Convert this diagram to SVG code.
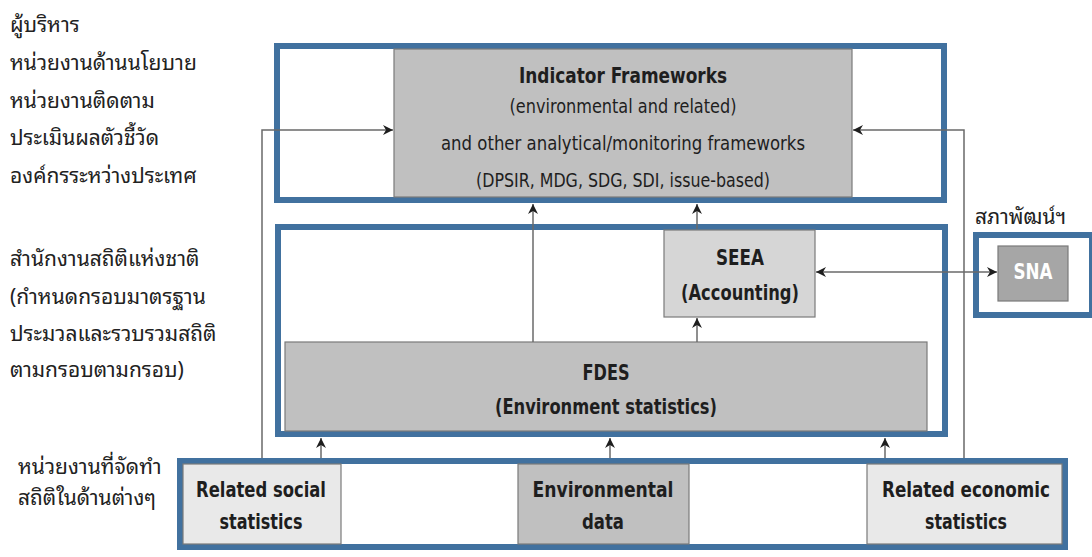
<svg xmlns="http://www.w3.org/2000/svg" width="1092" height="557" viewBox="0 0 1092 557">
<style>
.blue{fill:none;stroke:#41719f;stroke-width:6}
.bw{fill:#ffffff;stroke:#41719f;stroke-width:6}
.g1{fill:#c0c0c0;stroke:#7a7a7a;stroke-width:1.2}
.g2{fill:#d6d6d6;stroke:#7a7a7a;stroke-width:1.2}
.g3{fill:#e9e9e9;stroke:#7a7a7a;stroke-width:1.2}
.g4{fill:#a6a6a6;stroke:#7a7a7a;stroke-width:1.2}
.en{font-family:"Liberation Sans Narrow","DejaVu Sans Condensed","Liberation Sans",sans-serif;fill:#1e1e1e;text-anchor:middle}
.b{font-weight:bold;font-size:21px}
.r{font-size:19px}
.th{font-family:"Noto Sans Thai Looped","Noto Sans Thai","Noto Sans","Liberation Sans",sans-serif;font-size:21px;fill:#222222}
.ln{fill:none;stroke:#6a6a6a;stroke-width:1.5}
</style>
<defs>
<marker id="ah" viewBox="0 0 10 10" refX="10" refY="5" markerWidth="10" markerHeight="10" markerUnits="userSpaceOnUse" orient="auto-start-reverse">
<path d="M0,0 L10,5 L0,10 L3,5 Z" fill="#1e1e1e"/>
</marker>
</defs>

<g id="thai-labels">
<text class="th" x="10" y="32">ผู้บริหาร</text>
<text class="th" x="10" y="70">หน่วยงานด้านนโยบาย</text>
<text class="th" x="10" y="108">หน่วยงานติดตาม</text>
<text class="th" x="10" y="145">ประเมินผลตัวชี้วัด</text>
<text class="th" x="10" y="183">องค์กรระหว่างประเทศ</text>
<text class="th" x="10" y="266">สำนักงานสถิติแห่งชาติ</text>
<text class="th" x="10" y="304">(กำหนดกรอบมาตรฐาน</text>
<text class="th" x="10" y="341">ประมวลและรวบรวมสถิติ</text>
<text class="th" x="10" y="377">ตามกรอบตามกรอบ)</text>
<text class="th" x="18" y="474">หน่วยงานที่จัดทำ</text>
<text class="th" x="18" y="505">สถิติในด้านต่างๆ</text>
<text class="th" x="975" y="224">สภาพัฒน์ฯ</text>
</g>

<g id="top-group">
<rect class="bw" x="277" y="46" width="667" height="154"/>
<rect class="g1" x="394" y="49" width="458" height="148"/>
<text class="en b" x="623" y="83" textLength="208" lengthAdjust="spacingAndGlyphs">Indicator Frameworks</text>
<text class="en r" x="623" y="113" textLength="227" lengthAdjust="spacingAndGlyphs">(environmental and related)</text>
<text class="en r" x="623" y="150" textLength="364" lengthAdjust="spacingAndGlyphs">and other analytical/monitoring frameworks</text>
<text class="en r" x="623" y="187" textLength="294" lengthAdjust="spacingAndGlyphs">(DPSIR, MDG, SDG, SDI, issue-based)</text>
</g>

<g id="middle-group">
<rect class="bw" x="278" y="227" width="667" height="207"/>
<g id="seea">
<rect class="g2" x="664" y="230" width="151" height="87"/>
<text class="en b" x="740" y="265" textLength="48" lengthAdjust="spacingAndGlyphs">SEEA</text>
<text class="en b" x="740" y="300" textLength="118" lengthAdjust="spacingAndGlyphs">(Accounting)</text>
</g>
<g id="fdes">
<rect class="g1" x="285" y="342" width="642" height="89"/>
<text class="en b" x="606" y="380" textLength="47" lengthAdjust="spacingAndGlyphs">FDES</text>
<text class="en b" x="606" y="414" textLength="222" lengthAdjust="spacingAndGlyphs">(Environment statistics)</text>
</g>
</g>

<g id="sna-group">
<rect class="bw" x="976" y="235" width="116" height="80"/>
<rect class="g4" x="998" y="246" width="70" height="55"/>
<text class="en b" x="1033" y="279" style="fill:#ffffff" textLength="39" lengthAdjust="spacingAndGlyphs">SNA</text>
</g>

<g id="bottom-group">
<rect class="bw" x="180" y="461" width="885" height="86"/>
<g id="social">
<rect class="g3" x="183" y="464" width="158" height="80"/>
<text class="en b" x="261" y="497" textLength="130" lengthAdjust="spacingAndGlyphs">Related social</text>
<text class="en b" x="261" y="529" textLength="83" lengthAdjust="spacingAndGlyphs">statistics</text>
</g>
<g id="envdata">
<rect class="g1" x="518" y="464" width="171" height="80"/>
<text class="en b" x="603" y="497" textLength="141" lengthAdjust="spacingAndGlyphs">Environmental</text>
<text class="en b" x="603" y="529" textLength="42" lengthAdjust="spacingAndGlyphs">data</text>
</g>
<g id="economic">
<rect class="g3" x="867" y="464" width="195" height="80"/>
<text class="en b" x="966" y="497" textLength="168" lengthAdjust="spacingAndGlyphs">Related economic</text>
<text class="en b" x="966" y="529" textLength="82" lengthAdjust="spacingAndGlyphs">statistics</text>
</g>
</g>

<g id="connectors">
<polyline class="ln" points="262,458 262,130 393,130" marker-end="url(#ah)"/>
<polyline class="ln" points="964,458 964,130 853,130" marker-end="url(#ah)"/>
<line class="ln" x1="533" y1="342" x2="533" y2="204" marker-end="url(#ah)"/>
<line class="ln" x1="697" y1="229" x2="697" y2="204" marker-end="url(#ah)"/>
<line class="ln" x1="697" y1="342" x2="697" y2="318" marker-end="url(#ah)"/>
<line class="ln" x1="816" y1="272" x2="997" y2="272" marker-start="url(#ah)" marker-end="url(#ah)"/>
<line class="ln" x1="321" y1="458" x2="321" y2="438" marker-end="url(#ah)"/>
<line class="ln" x1="610" y1="458" x2="610" y2="438" marker-end="url(#ah)"/>
<line class="ln" x1="885" y1="458" x2="885" y2="438" marker-end="url(#ah)"/>
</g>
</svg>
